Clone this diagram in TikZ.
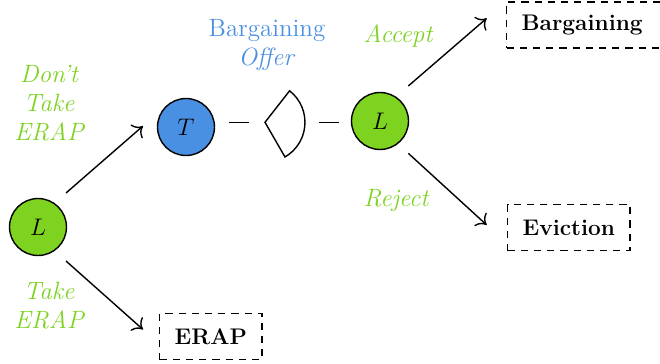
\documentclass[tikz,border=0pt]{standalone}
\usepackage{fontspec}
\usetikzlibrary{arrows.meta}
\definecolor{lgreen}{HTML}{7ED321}
\definecolor{lblue}{HTML}{4A90E2}
\tikzset{
  player/.style={circle,draw=black,line width=0.7pt,minimum size=28.5pt,inner sep=0pt,font=\fontsize{13}{15}\selectfont},
  outcome/.style={draw=black,dash pattern=on 3.6pt off 3pt,line width=0.65pt,inner xsep=7.5pt,minimum height=23pt,anchor=west,font=\fontsize{11.3}{15}\selectfont\bfseries},
  move/.style={text=lgreen,align=center,font=\fontsize{12.5}{14.5}\selectfont\itshape},
  edge/.style={-{To[length=4.5pt,width=9pt]},line width=0.7pt},
  link/.style={line width=0.7pt}
}
\begin{document}
\begin{tikzpicture}[x=0.5pt,y=-0.5pt]
\useasboundingbox (0,0) rectangle (660,364);
% players
\node[player,fill=lgreen] (L1) at (38,227) {$L$};
\node[player,fill=lblue] (T) at (186,127) {$T$};
\node[player,fill=lgreen] (L2) at (380,121) {$L$};
% outcomes
\node[outcome,text width=78pt,align=left] (Barg) at (506,25) {Bargaining};
\node[outcome] (Evic) at (507,227.5) {Eviction};
\node[outcome] (ERAP) at (159,336.5) {ERAP};
% bargaining offer sector
\coordinate (apex) at (265,122.3);
\draw[link,line join=miter] (apex) -- (289.6,90.8) arc[start angle=-52,end angle=60,radius=40] -- cycle;
% dashes
\coordinate (d1a) at (229,122.5);
\coordinate (d1b) at (249,122.5);
\coordinate (d2a) at (319,122.5);
\coordinate (d2b) at (339,122.5);
\draw[link] (d1a) -- (d1b);
\draw[link] (d2a) -- (d2b);
% arrow ends
\coordinate (eT) at (143,126);
\coordinate (eE) at (143,329.5);
\coordinate (eB) at (486.7,18.3);
\coordinate (eV) at (486.7,225);
\draw[edge] ([shift={(28,-34)}]L1.center) -- (eT);
\draw[edge] ([shift={(28,34)}]L1.center) -- (eE);
\draw[edge] ([shift={(28.3,-35)}]L2.center) -- (eB);
\draw[edge] ([shift={(28.3,32.3)}]L2.center) -- (eV);
% labels
\node[move] (l1) at (49,103) {Don’t\\Take\\ERAP};
\node[move] (l2) at (49,306) {Take\\ERAP};
\node[align=center,text=lblue,font=\fontsize{12.5}{14.5}\selectfont] (l3) at (267,45) {Bargaining\\\textit{Offer}};
\node[move] (l4) at (398,36) {Accept};
\node[move] (l5) at (396,201) {Reject};
\end{tikzpicture}
\end{document}
